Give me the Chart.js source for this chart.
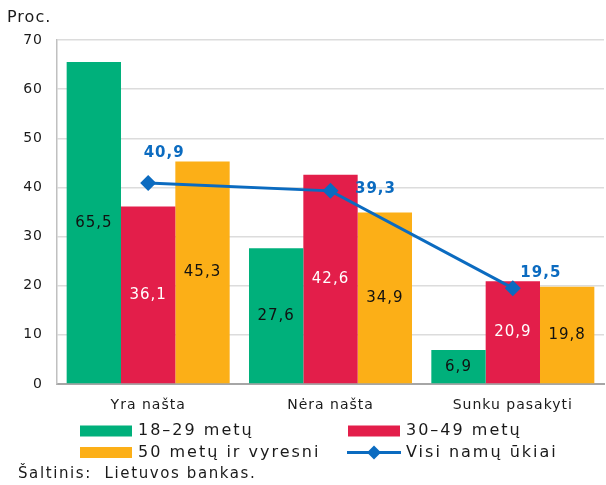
<!DOCTYPE html>
<html>
<head>
<meta charset="utf-8">
<script src="https://cdn.jsdelivr.net/npm/chart.js@4.4.1/dist/chart.umd.min.js"></script>
<style>
html, body { margin: 0; padding: 0; background: #fff; overflow: hidden; }
#wrap { width: 606px; height: 485px; overflow: hidden; }
</style>
</head>
<body>
<div id="wrap"><canvas id="chart" width="612" height="485"></canvas></div>
<script>
const categories = ['Yra našta', 'Nėra našta', 'Sunku pasakyti'];
const age18to29 = [65.5, 27.6, 6.9];
const age30to49 = [36.1, 42.6, 20.9];
const age50plus = [45.3, 34.9, 19.8];
const allHouseholds = [40.9, 39.3, 19.5];
const yTicks = [0, 10, 20, 30, 40, 50, 60, 70];
const seriesNames = ['18–29 metų', '30–49 metų', '50 metų ir vyresni', 'Visi namų ūkiai'];

const GREEN = '#00b07b';
const RED = '#e31e4a';
const ORANGE = '#fcaf17';
const BLUE = '#0b6bc0';
const FONT = 'DejaVu Sans';

// offsets of the line value labels from their points (px)
const lineLabelOffsets = [[16, -30], [45, -2], [28, -15]];

const fmt = v => v.toFixed(1).replace('.', ',');

function drawText(ctx, text, x, y, font, color, spacing, align) {
    ctx.save();
    ctx.font = font;
    ctx.fillStyle = color;
    ctx.letterSpacing = spacing + 'px';
    ctx.textAlign = align || 'left';
    ctx.textBaseline = 'middle';
    ctx.fillText(text, x, y);
    ctx.restore();
}

const spacingPlugin = {
    id: 'spacing',
    beforeUpdate(chart) { chart.ctx.letterSpacing = '1px'; },
    beforeDraw(chart) { chart.ctx.letterSpacing = '1px'; }
};

const labelsPlugin = {
    id: 'labels',
    afterDatasetsDraw(chart) {
        const ctx = chart.ctx;
        chart.data.datasets.forEach(function(ds, di) {
            const meta = chart.getDatasetMeta(di);
            meta.data.forEach(function(el, i) {
                if (ds.type === 'line') {
                    const off = lineLabelOffsets[i];
                    drawText(ctx, fmt(ds.data[i]), el.x + off[0], el.y + off[1],
                        'bold 15px "' + FONT + '"', BLUE, 1, 'center');
                } else {
                    drawText(ctx, fmt(ds.data[i]), el.x, (el.y + el.base) / 2,
                        '15px "' + FONT + '"', ds.labelColor, 1, 'center');
                }
            });
        });
    },
    afterDraw(chart) {
        const ctx = chart.ctx;
        drawText(ctx, 'Proc.', 7, 18, '16px "' + FONT + '"', '#1a1a1a', 1);

        // legend, two columns
        const items = [
            { x: 80, y: 431, color: GREEN, name: seriesNames[0] },
            { x: 348, y: 431, color: RED, name: seriesNames[1] },
            { x: 80, y: 452.5, color: ORANGE, name: seriesNames[2] },
            { x: 348, y: 452.5, color: BLUE, name: seriesNames[3], line: true }
        ];
        items.forEach(function(it) {
            ctx.save();
            if (it.line) {
                ctx.strokeStyle = it.color;
                ctx.lineWidth = 3;
                ctx.beginPath();
                ctx.moveTo(it.x - 1, it.y);
                ctx.lineTo(it.x + 53, it.y);
                ctx.stroke();
                ctx.fillStyle = it.color;
                ctx.beginPath();
                const cx = it.x + 26;
                ctx.moveTo(cx - 7, it.y);
                ctx.lineTo(cx, it.y - 7);
                ctx.lineTo(cx + 7, it.y);
                ctx.lineTo(cx, it.y + 7);
                ctx.closePath();
                ctx.fill();
            } else {
                ctx.fillStyle = it.color;
                ctx.fillRect(it.x, it.y - 5.5, 52, 11);
            }
            ctx.restore();
            drawText(ctx, it.name, it.x + 58, it.y, '16px "' + FONT + '"', '#1a1a1a', 2);
        });

        drawText(ctx, 'Šaltinis:  Lietuvos bankas.', 18, 474, '15px "' + FONT + '"', '#1a1a1a', 1.6);
    }
};

Chart.defaults.font.family = FONT;
Chart.defaults.color = '#1a1a1a';

const chart = new Chart(document.getElementById('chart'), {
    data: {
        labels: categories,
        datasets: [
            {
                type: 'line',
                label: seriesNames[3],
                data: allHouseholds,
                borderColor: BLUE,
                backgroundColor: BLUE,
                borderWidth: 3,
                tension: 0,
                pointStyle: 'rectRot',
                pointRadius: 8,
                pointBackgroundColor: BLUE,
                pointBorderColor: BLUE,
                pointBorderWidth: 0,
                order: 0
            },
            { type: 'bar', label: seriesNames[0], data: age18to29, backgroundColor: GREEN, labelColor: '#111', order: 1 },
            { type: 'bar', label: seriesNames[1], data: age30to49, backgroundColor: RED, labelColor: '#ffffff', order: 1 },
            { type: 'bar', label: seriesNames[2], data: age50plus, backgroundColor: ORANGE, labelColor: '#111', order: 1 }
        ]
    },
    options: {
        responsive: false,
        animation: false,
        layout: { padding: { top: 40, right: 4, left: 0, bottom: 0 } },
        datasets: {
            bar: { categoryPercentage: 0.894, barPercentage: 1, borderWidth: 0 }
        },
        plugins: {
            legend: { display: false },
            tooltip: { enabled: false }
        },
        scales: {
            x: {
                grid: { display: false, drawTicks: false },
                border: { display: true, color: '#a6a6a6', width: 2 },
                ticks: { padding: 13, color: '#1a1a1a', font: { size: 14 } },
                afterFit: function(scale) { scale.height = 101; }
            },
            y: {
                min: 0,
                max: 70,
                grid: { color: '#dcdcdc', lineWidth: 1.5, drawTicks: false },
                border: { display: true, color: '#c0c0c0', width: 1.5 },
                ticks: { padding: 14, color: '#1a1a1a', font: { size: 14 } },
                afterBuildTicks: function(scale) {
                    scale.ticks = yTicks.map(v => ({ value: v }));
                },
                afterFit: function(scale) { scale.width = 57; }
            }
        }
    },
    plugins: [spacingPlugin, labelsPlugin]
});
</script>
</body>
</html>
